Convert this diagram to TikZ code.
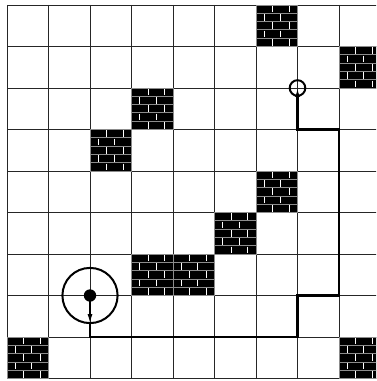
\documentclass[tikz,border=0pt]{standalone}
\usetikzlibrary{arrows.meta}
\begin{document}
\begin{tikzpicture}[x=41.5pt,y=-41.5pt,
  gridline/.style={black!85,line width=0.8pt},
  route/.style={black,line width=2.1pt},
  mortarh/.style={black!45,line width=0.8pt},
  mortarv/.style={white,line width=0.9pt},
  tipend/.style={-{Latex[length=9pt,width=5pt]}},
  ring/.style={circle,draw=black,line width=2pt,inner sep=0pt,outer sep=0pt,fill=none},
  dotnode/.style={circle,fill=black,inner sep=0pt,outer sep=0pt,minimum size=12.4pt}]
\useasboundingbox (-0.16867,-0.12048) rectangle (8.8916,9.0602);
\fill[white] (-0.16867,-0.12048) rectangle (8.8916,9.0602);
\clip (-0.16867,-0.12048) rectangle (8.8916,9.0602);
% grid
\foreach \i in {0,...,9} {
  \draw[gridline] (\i,0) -- (\i,9);
  \draw[gridline] (0,\i) -- (9,\i);
}
% brick walls
\foreach \c/\r in {6/0,8/1,3/2,2/3,6/4,5/5,3/6,4/6,0/8,8/8} {
  \fill[black] (\c,\r) rectangle ++(1,1);
  \foreach \k in {1,2,3,4} \draw[mortarh] (\c,\r+\k*0.2) -- ++(1,0);
  \foreach \k in {0,2,4} {
    \draw[mortarv] (\c+0.4,\r+\k*0.2+0.02) -- ++(0,0.16);
    \draw[mortarv] (\c+0.8,\r+\k*0.2+0.02) -- ++(0,0.16);
  }
  \foreach \k in {1,3} {
    \draw[mortarv] (\c+0.2,\r+\k*0.2+0.02) -- ++(0,0.16);
    \draw[mortarv] (\c+0.6,\r+\k*0.2+0.02) -- ++(0,0.16);
  }
  \draw[mortarh] (\c,\r) rectangle ++(1,1);
}
% robot start and goal
\node[ring,minimum size=55.2pt] (start) at (2,7) {};
\node[dotnode] (dot) at (2,7) {};
\node[ring,minimum size=15.6pt] (goal) at (7,2) {};
\coordinate (c1) at (2,8);
\coordinate (c2) at (7,8);
\coordinate (c3) at (7,7);
\coordinate (c4) at (8,7);
\coordinate (c5) at (8,3);
\coordinate (c6) at (7,3);
\draw[black,line width=1.3pt,tipend] (dot.center) -- (start.south);
\draw[route,tipend] (start.south) -- (c1) -- (c2) -- (c3) -- (c4) -- (c5) -- (c6) -- (goal.center);
\end{tikzpicture}
\end{document}
